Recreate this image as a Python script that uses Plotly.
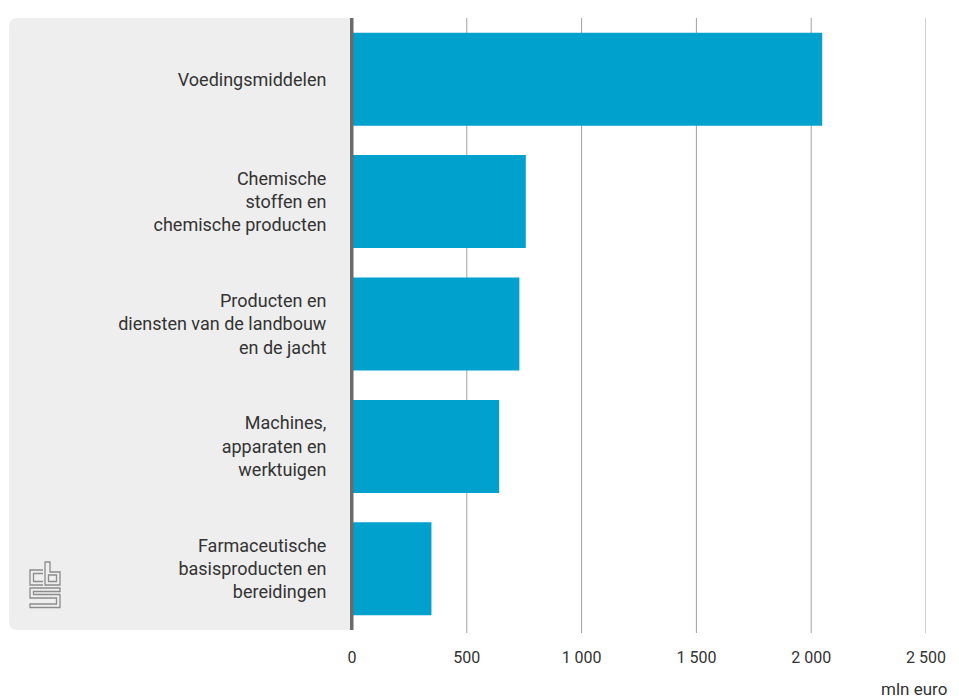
import plotly.graph_objects as go

categories = [
    "Voedingsmiddelen",
    "Chemische<br>stoffen en<br>chemische producten",
    "Producten en<br>diensten van de landbouw<br>en de jacht",
    "Machines,<br>apparaten en<br>werktuigen",
    "Farmaceutische<br>basisproducten en<br>bereidingen",
]
values = [2048, 757, 729, 641, 346]
x_ticks = [0, 500, 1000, 1500, 2000, 2500]
x_tick_labels = ["0", "500", "1 000", "1 500", "2 000", "2 500"]
unit_label = "mln euro"

OFF = 8  # page body margin
W, H = 959 - OFF, 698 - OFF
L, T = 352 - OFF, 18 - OFF
R = W - (926 - OFF)
B = H - (630 - OFF)
PW, PH = W - L - R, H - T - B

def px(x):
    # screen pixel -> paper
    return (x - OFF - L) / PW

def py(y):
    return (H - B - (y - OFF)) / PH

FONT = "Roboto"

fig = go.Figure()
fig.add_trace(go.Bar(
    x=values, y=categories, orientation="h",
    marker=dict(color="#00a1cd", line=dict(width=0)),
    hoverinfo="x+y",
))

shapes = []
r = 9
x0, x1, y0, y1 = 9, 352, 18, 630
path = (f"M {px(x1)} {py(y0)} L {px(x0 + r)} {py(y0)} "
        f"Q {px(x0)} {py(y0)} {px(x0)} {py(y0 + r)} "
        f"L {px(x0)} {py(y1 - r)} Q {px(x0)} {py(y1)} {px(x0 + r)} {py(y1)} "
        f"L {px(x1)} {py(y1)} Z")
shapes.append(dict(type="path", xref="paper", yref="paper", path=path,
                   fillcolor="#eeeeee", line=dict(width=0), layer="below"))
for t in x_ticks[1:]:
    shapes.append(dict(type="line", xref="x", yref="paper", x0=t, x1=t,
                       y0=py(633), y1=1, line=dict(color="#a0a0a0", width=1),
                       layer="below"))
# axis line
shapes.append(dict(type="rect", xref="paper", yref="paper",
                   x0=px(350), x1=px(353.5), y0=0, y1=1,
                   fillcolor="#6b6b6b", line=dict(width=0), layer="above"))

def pth(points, close=False):
    s = "M " + " L ".join(f"{px(a)} {py(b)}" for a, b in points)
    if close:
        s += " Z"
    return s

logo = [
    ([(43, 570), (30, 570), (30, 585), (43, 585)], False),
    ([(43, 573.5), (33.5, 573.5), (33.5, 581.5), (43, 581.5)], False),
    ([(45, 562), (50, 562), (50, 572), (60, 572), (60, 585), (45, 585)], True),
    ([(48.5, 575), (56.5, 575), (56.5, 581.5), (48.5, 581.5)], True),
    ([(60, 588), (30, 588), (30, 598), (56.5, 598), (56.5, 604), (30, 604),
      (30, 607.5), (60, 607.5), (60, 594.5), (33.5, 594.5), (33.5, 591.5),
      (60, 591.5)], True),
]
for pts, cl in logo:
    shapes.append(dict(type="path", xref="paper", yref="paper", path=pth(pts, cl),
                       line=dict(color="#8c8c8c", width=1.3), fillcolor="rgba(0,0,0,0)"))

fig.update_layout(
    width=W, height=H,
    margin=dict(l=L, r=R, t=T, b=B, pad=0),
    paper_bgcolor="white", plot_bgcolor="rgba(0,0,0,0)",
    bargap=0.24,
    showlegend=False,
    shapes=shapes,
    font=dict(family=FONT, color="#333333", size=16),
    xaxis=dict(range=[0, 2500], tickvals=x_ticks, ticktext=x_tick_labels,
               showgrid=False, zeroline=False, showline=False,
               ticks="outside", ticklen=13, tickcolor="rgba(0,0,0,0)",
               tickfont=dict(size=16, family=FONT, color="#333333"),
               fixedrange=True),
    yaxis=dict(autorange="reversed", showgrid=False, zeroline=False, showline=False,
               ticks="outside", ticklen=21, tickcolor="rgba(0,0,0,0)",
               tickfont=dict(size=18, family=FONT, color="#333333"),
               fixedrange=True),
    annotations=[dict(text=unit_label, xref="paper", yref="paper",
                      x=px(949), y=py(689), xanchor="right", yanchor="middle",
                      showarrow=False,
                      font=dict(size=17, family=FONT, color="#333333"))],
)

fig.write_html("out.html")
